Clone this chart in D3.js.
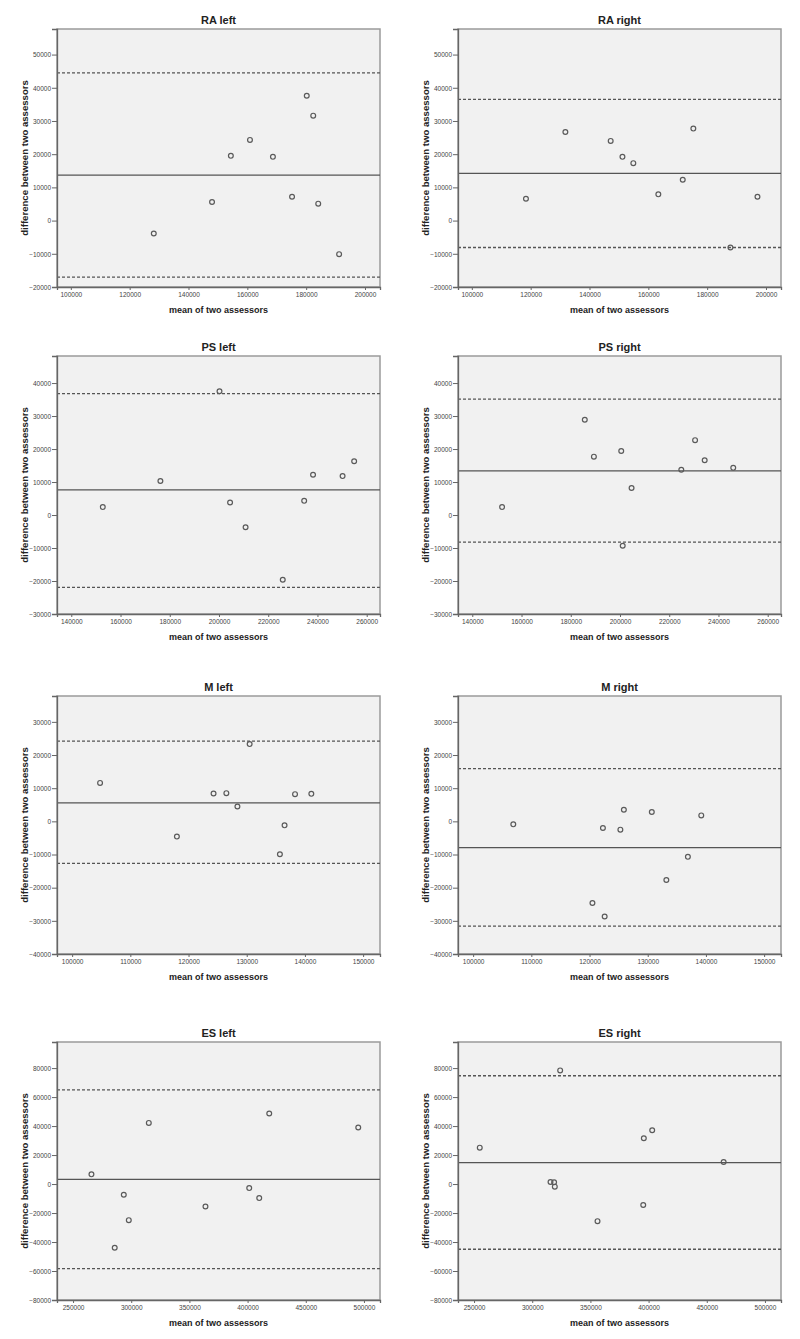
<!DOCTYPE html>
<html>
<head>
<meta charset="utf-8">
<script src="https://d3js.org/d3.v7.min.js"></script>
<style>
  body { margin: 0; background: #fff; }
  text { font-family: Arial, "Liberation Sans", sans-serif; }
  .tick-label { font-size: 6.5px; fill: #444; }
  .panel-title { font-size: 11px; font-weight: bold; fill: #222; }
  .axis-title { font-weight: bold; fill: #222; }
</style>
</head>
<body>
<div id="viz-container"></div>
<script>
// values (mean of two assessors, difference between them)
var raLeftX = [128200, 148000, 154400, 160900, 168700, 175200, 180200, 182400, 184100, 191200];
var raLeftY = [-3900, 5600, 19500, 24300, 19200, 7200, 37600, 31600, 5100, -10100];
var raLeftLimits = [13700, 44500, -17000];   // mean, upper, lower

var raRightX = [118400, 131800, 147200, 151200, 154900, 163400, 171700, 175300, 187900, 197100];
var raRightY = [6600, 26700, 24000, 19200, 17300, 7900, 12300, 27700, -8100, 7200];
var raRightLimits = [14200, 36500, -8100];

var psLeftX = [152800, 176200, 200200, 204500, 210800, 225900, 234600, 238200, 250200, 254900];
var psLeftY = [2400, 10300, 37500, 3800, -3700, -19600, 4300, 12200, 11800, 16300];
var psLeftLimits = [7600, 36800, -21900];

var psRightX = [152100, 185700, 189400, 200500, 201100, 204700, 224900, 230500, 234400, 246000];
var psRightY = [2400, 28900, 17700, 19400, -9300, 8200, 13700, 22700, 16600, 14300];
var psRightLimits = [13400, 35100, -8200];

var mLeftX = [104800, 118000, 124300, 126500, 128400, 130500, 135700, 136500, 138300, 141100];
var mLeftY = [11600, -4600, 8400, 8500, 4500, 23300, -9900, -1200, 8200, 8300];
var mLeftLimits = [5600, 24200, -12700];

var mRightX = [106900, 120500, 122300, 122600, 125300, 125900, 130700, 133200, 136900, 139200];
var mRightY = [-900, -24600, -2000, -28700, -2500, 3500, 2800, -17700, -10700, 1800];
var mRightLimits = [-7900, 15900, -31600];

var esLeftX = [265800, 285800, 293600, 297900, 315100, 363800, 401400, 410000, 418600, 495100];
var esLeftY = [6700, -44000, -7400, -24900, 42200, -15500, -2800, -9700, 48700, 39000];
var esLeftLimits = [3200, 65000, -58300];

var esRightX = [254900, 315700, 318800, 319400, 324000, 356100, 395400, 395900, 403100, 464500];
var esRightY = [25100, 1400, 1200, -1800, 78400, -25600, -14500, 31600, 37100, 15200];
var esRightLimits = [14800, 74700, -45000];

// axis ranges and tick labels per muscle
var raXDomain = [95300, 205100], raYDomain = [-20000, 57700];
var raXTicks = [100000, 120000, 140000, 160000, 180000, 200000];
var raYTicks = [-20000, -10000, 0, 10000, 20000, 30000, 40000, 50000];

var psXDomain = [134200, 265400], psYDomain = [-30000, 48200];
var psXTicks = [140000, 160000, 180000, 200000, 220000, 240000, 260000];
var psYTicks = [-30000, -20000, -10000, 0, 10000, 20000, 30000, 40000];

var mXDomain = [97400, 152900], mYDomain = [-40000, 37800];
var mXTicks = [100000, 110000, 120000, 130000, 140000, 150000];
var mYTicks = [-40000, -30000, -20000, -10000, 0, 10000, 20000, 30000];

var esXDomain = [236200, 513800], esYDomain = [-80000, 98000];
var esXTicks = [250000, 300000, 350000, 400000, 450000, 500000];
var esYTicks = [-80000, -60000, -40000, -20000, 0, 20000, 40000, 60000, 80000];

var panelTitles = ["RA left", "RA right", "PS left", "PS right", "M left", "M right", "ES left", "ES right"];

var panels = [
  {x: raLeftX,  y: raLeftY,  lim: raLeftLimits,  xd: raXDomain, yd: raYDomain, xt: raXTicks, yt: raYTicks},
  {x: raRightX, y: raRightY, lim: raRightLimits, xd: raXDomain, yd: raYDomain, xt: raXTicks, yt: raYTicks},
  {x: psLeftX,  y: psLeftY,  lim: psLeftLimits,  xd: psXDomain, yd: psYDomain, xt: psXTicks, yt: psYTicks},
  {x: psRightX, y: psRightY, lim: psRightLimits, xd: psXDomain, yd: psYDomain, xt: psXTicks, yt: psYTicks},
  {x: mLeftX,   y: mLeftY,   lim: mLeftLimits,   xd: mXDomain,  yd: mYDomain,  xt: mXTicks,  yt: mYTicks},
  {x: mRightX,  y: mRightY,  lim: mRightLimits,  xd: mXDomain,  yd: mYDomain,  xt: mXTicks,  yt: mYTicks},
  {x: esLeftX,  y: esLeftY,  lim: esLeftLimits,  xd: esXDomain, yd: esYDomain, xt: esXTicks, yt: esYTicks},
  {x: esRightX, y: esRightY, lim: esRightLimits, xd: esXDomain, yd: esYDomain, xt: esXTicks, yt: esYTicks}
];

var width = 800, height = 1339;
var PLOT_W = 323, PLOT_H = 258;
var colLeft = [57, 458];
var rowTop = [29, 356, 696, 1042];

var svg = d3.select("#viz-container")
            .append("svg")
            .attr("width", width)
            .attr("height", height);

panels.forEach(function(p, i) {
  var g = svg.append("g")
             .attr("transform", "translate(" + colLeft[i % 2] + "," + rowTop[Math.floor(i / 2)] + ")");

  var x = d3.scaleLinear().domain(p.xd).range([0, PLOT_W]);
  var y = d3.scaleLinear().domain(p.yd).range([PLOT_H, 0]);

  // plot background + light frame
  g.append("rect")
   .attr("width", PLOT_W)
   .attr("height", PLOT_H)
   .attr("fill", "#f1f1f1")
   .attr("stroke", "#9a9a9a")
   .attr("stroke-width", 1.5);

  // mean line and limits of agreement
  g.selectAll(".limit")
   .data(p.lim)
   .enter().append("line")
   .attr("x1", 0)
   .attr("x2", PLOT_W)
   .attr("y1", function(d) { return y(d); })
   .attr("y2", function(d) { return y(d); })
   .attr("stroke", "#555")
   .attr("stroke-width", 1.3)
   .attr("stroke-dasharray", function(d, j) { return j === 0 ? null : "3,2"; });

  // axes
  var yAxis = g.append("g")
               .call(d3.axisLeft(y).tickValues(p.yt).tickSize(5).tickPadding(1).tickFormat(d3.format("d")));
  var xAxis = g.append("g")
               .attr("transform", "translate(0," + PLOT_H + ")")
               .call(d3.axisBottom(x).tickValues(p.xt).tickSize(3).tickPadding(2).tickFormat(d3.format("d")));

  [xAxis, yAxis].forEach(function(ax) {
    ax.select(".domain").attr("stroke", "#666").attr("stroke-width", 1.3);
    ax.selectAll(".tick line").attr("stroke", "#666");
    ax.selectAll(".tick text").attr("class", "tick-label").attr("fill", null);
  });
  yAxis.selectAll(".tick text").attr("dy", "0.35em");

  // points
  g.selectAll("circle")
   .data(p.x)
   .enter().append("circle")
   .attr("cx", function(d) { return x(d); })
   .attr("cy", function(d, j) { return y(p.y[j]); })
   .attr("r", 2.4)
   .attr("fill", "none")
   .attr("stroke", "#5a5a5a")
   .attr("stroke-width", 1.2);

  // titles
  g.append("text")
   .attr("class", "panel-title")
   .attr("x", PLOT_W / 2)
   .attr("y", -5)
   .attr("text-anchor", "middle")
   .text(panelTitles[i]);

  g.append("text")
   .attr("class", "axis-title")
   .attr("x", PLOT_W / 2)
   .attr("y", PLOT_H + 26)
   .attr("text-anchor", "middle")
   .style("font-size", "9px")
   .text("mean of two assessors");

  g.append("text")
   .attr("class", "axis-title")
   .attr("transform", "translate(-29," + (PLOT_H / 2) + ") rotate(-90)")
   .attr("text-anchor", "middle")
   .style("font-size", "9.6px")
   .text("difference between two assessors");
});
</script>
</body>
</html>
